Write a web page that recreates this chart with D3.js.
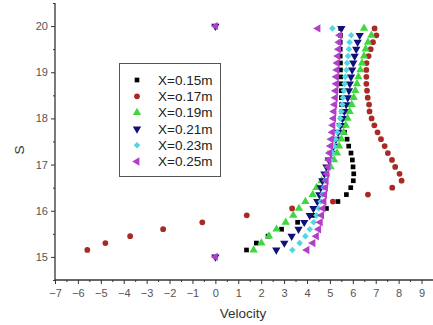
<!DOCTYPE html>
<html><head><meta charset="utf-8">
<script src="https://cdn.jsdelivr.net/npm/d3@7"></script>
<style>html,body{margin:0;padding:0;background:#fff;}svg{display:block;font-family:"Liberation Sans",Arial,sans-serif;}</style>
</head><body><svg id="c" width="433" height="325"></svg>
<script>
const sLevels = [15.15,15.30,15.45,15.60,15.75,15.90,16.05,16.20,16.35,16.50,16.65,16.80,16.95,17.10,17.25,17.40,17.55,17.70,17.85,18.00,18.15,18.30,18.45,18.60,18.75,18.90,19.05,19.20,19.35,19.50,19.65,19.80,19.95];
const seriesNames = ["X=0.15m","X=o.17m","X=0.19m","X=0.21m","X=0.23m","X=0.25m"];
const v015 = [1.36,1.79,2.30,2.89,3.59,4.25,4.85,5.35,5.72,5.91,6.02,6.04,6.01,5.98,5.92,5.82,5.75,5.64,5.58,5.55,5.53,5.51,5.50,5.49,5.48,5.47,5.46,5.46,5.45,5.45,5.45,5.46,5.47];
const v017 = [-5.59,-4.80,-3.72,-2.28,-0.57,1.37,3.35,5.13,6.66,7.72,8.13,8.04,7.85,7.71,7.53,7.39,7.23,7.08,6.94,6.82,6.73,6.71,6.65,6.62,6.59,6.59,6.59,6.60,6.69,6.78,6.88,7.03,6.95];
const v019 = [1.67,2.01,2.34,2.67,3.07,3.40,3.65,3.93,4.25,4.42,4.63,4.84,5.03,5.18,5.31,5.40,5.50,5.60,5.69,5.77,5.86,5.95,6.04,6.11,6.18,6.24,6.33,6.40,6.49,6.56,6.66,6.81,6.49];
const v021 = [2.66,3.01,3.33,3.63,3.88,4.12,4.28,4.45,4.54,4.60,4.67,4.76,4.85,4.95,5.06,5.16,5.26,5.36,5.46,5.55,5.63,5.71,5.78,5.83,5.87,5.92,5.97,6.02,6.08,6.15,6.21,6.30,5.50];
const v023 = [3.36,3.68,3.93,4.12,4.29,4.41,4.51,4.60,4.67,4.73,4.80,4.87,4.96,5.03,5.11,5.18,5.25,5.32,5.40,5.45,5.50,5.54,5.57,5.61,5.64,5.67,5.72,5.75,5.79,5.83,5.86,5.93,5.11];
const v025 = [4.00,4.26,4.41,4.51,4.58,4.64,4.70,4.74,4.77,4.81,4.84,4.87,4.92,4.95,4.99,5.03,5.06,5.11,5.13,5.16,5.18,5.21,5.24,5.25,5.28,5.28,5.31,5.32,5.35,5.38,5.40,5.43,4.48];
const wallS = [15, 20];
const wallV = [0, 0];
const xTicks = [-7,-6,-5,-4,-3,-2,-1,0,1,2,3,4,5,6,7,8,9];
const yTicks = [15,16,17,18,19,20];

const colors = ["#000000","#a82a26","#3ed83e","#10107a","#4fd8e0","#b23fc8"];
const shapes = ["square","circle","tri","down","diamond","left"];
const allV = [v015,v017,v019,v021,v023,v025];

const svg = d3.select("#c");
const x = d3.scaleLinear().domain([-7, 9.5]).range([55, 433]);
const y = d3.scaleLinear().domain([14.5, 20.5]).range([280, 3]);

const axisColor = "#333";
const gy = svg.append("g").attr("transform","translate(55,0)");
gy.call(d3.axisLeft(y).tickValues(yTicks).tickSize(4).tickFormat(d3.format("d")));
const gyMinor = gy.append("g").call(d3.axisLeft(y).tickValues(d3.range(14.5,20.6,1)).tickSize(2).tickFormat(""));
const gx = svg.append("g").attr("transform","translate(0,280)");
gx.call(d3.axisBottom(x).tickValues(xTicks).tickSize(4).tickFormat(d3.format("d")));
const gxMinor = gx.append("g").call(d3.axisBottom(x).tickValues(d3.range(-6.5,9.6,1)).tickSize(2).tickFormat(""));
gyMinor.select(".domain").remove();
gxMinor.select(".domain").remove();
svg.selectAll(".domain").attr("stroke",axisColor).attr("stroke-width",1.3);
svg.selectAll(".tick line").attr("stroke",axisColor);
svg.selectAll(".tick text").attr("fill","#555").attr("font-size","11px").attr("font-family","Liberation Sans, Arial, sans-serif");
gx.selectAll(".tick text").attr("dy","0.75em").attr("y",9);
gy.selectAll(".tick text").attr("x",-7);
gy.select(".domain").attr("d","M0,3V280");
gx.select(".domain").attr("d","M55,0H433");

svg.append("text").attr("x",243).attr("y",318).attr("text-anchor","middle")
  .attr("font-size","13.5px").attr("fill","#333").text("Velocity");
svg.append("text").attr("transform","translate(24,150) rotate(-90)").attr("text-anchor","middle")
  .attr("font-size","13.5px").attr("fill","#333").text("S");

function symPath(shape){
  switch(shape){
    case "square": return d3.symbol().type(d3.symbolSquare).size(22)();
    case "circle": return d3.symbol().type(d3.symbolCircle).size(26)();
    case "diamond": return d3.symbol().type(d3.symbolSquare).size(22)();
    default: return d3.symbol().type(d3.symbolTriangle).size(30)();
  }
}
function rot(shape){ return shape==="down"?180:(shape==="left"?-90:(shape==="diamond"?45:0)); }

const plot = svg.append("g");
allV.forEach((vals, k) => {
  const pts = sLevels.map((s,i)=>({s, v: vals[i]}));
  if (shapes[k]==="down" || shapes[k]==="left") wallS.forEach((s,i)=>pts.push({s, v: wallV[i]}));
  plot.append("g").selectAll("path").data(pts).join("path")
    .attr("d", symPath(shapes[k]))
    .attr("transform", d=>`translate(${x(d.v)},${y(d.s)}) rotate(${rot(shapes[k])})`)
    .attr("fill", colors[k]);
});

const lg = svg.append("g");
lg.append("rect").attr("x",119.5).attr("y",63.5).attr("width",101).attr("height",113)
  .attr("fill","#fff").attr("stroke","#555").attr("stroke-width",1);
seriesNames.forEach((n,k)=>{
  const yy = 80 + k*16.3;
  lg.append("path").attr("d", symPath(shapes[k])).attr("transform",`translate(137,${yy}) rotate(${rot(shapes[k])})`).attr("fill",colors[k]);
  lg.append("text").attr("x",158).attr("y",yy).attr("dy","0.36em").attr("font-size","13.5px").attr("fill","#222").text(n);
});
</script></body></html>
